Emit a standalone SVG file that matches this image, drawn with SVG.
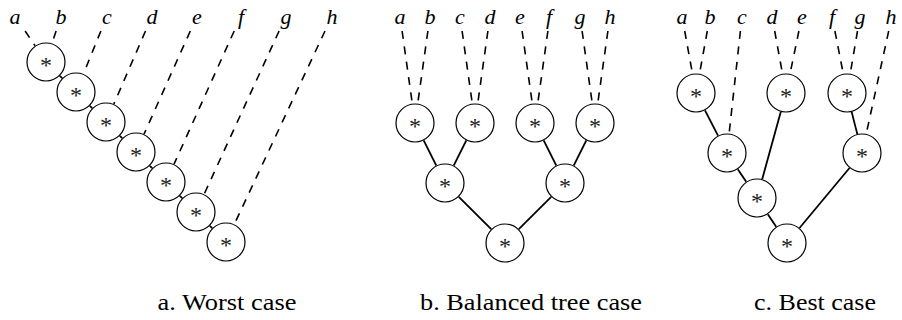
<svg xmlns="http://www.w3.org/2000/svg" width="902" height="320" viewBox="0 0 902 320">
<g id="connectors" fill="none" stroke="#000">
<g stroke-width="1.6" stroke-dasharray="8 7.5">
<line x1="25.1" y1="31" x2="35.1" y2="45.8"/>
<line x1="56.1" y1="31" x2="52.0" y2="43.5"/>
<line x1="100.9" y1="31" x2="83.4" y2="73.9"/>
<line x1="145.5" y1="31" x2="113.8" y2="104.1"/>
<line x1="190.3" y1="31" x2="144.0" y2="134.2"/>
<line x1="234.2" y1="31" x2="174.0" y2="164.2"/>
<line x1="279.1" y1="31" x2="204.1" y2="194.3"/>
<line x1="325.0" y1="31" x2="234.3" y2="224.3"/>
<line x1="402.1" y1="31" x2="412.3" y2="103.7"/>
<line x1="427.9" y1="31" x2="417.7" y2="103.7"/>
<line x1="462.1" y1="31" x2="472.3" y2="103.7"/>
<line x1="487.9" y1="31" x2="477.7" y2="103.7"/>
<line x1="522.1" y1="31" x2="532.3" y2="103.7"/>
<line x1="547.9" y1="31" x2="537.7" y2="103.7"/>
<line x1="582.1" y1="31" x2="592.3" y2="103.7"/>
<line x1="607.9" y1="31" x2="597.7" y2="103.7"/>
<line x1="684.7" y1="31" x2="692.5" y2="73.8"/>
<line x1="707.3" y1="31" x2="699.5" y2="73.8"/>
<line x1="740.4" y1="31" x2="729.1" y2="133.6"/>
<line x1="774.7" y1="31" x2="782.5" y2="73.8"/>
<line x1="798.9" y1="31" x2="790.0" y2="73.9"/>
<line x1="834.9" y1="31" x2="843.3" y2="73.9"/>
<line x1="857.5" y1="31" x2="850.2" y2="73.8"/>
<line x1="888.7" y1="31" x2="866.2" y2="134.0"/>
</g>
<g stroke-width="1.8">
<line x1="59.8" y1="75.8" x2="62.2" y2="78.2"/>
<line x1="89.8" y1="105.8" x2="92.2" y2="108.2"/>
<line x1="119.8" y1="135.8" x2="122.2" y2="138.2"/>
<line x1="149.8" y1="165.8" x2="152.2" y2="168.2"/>
<line x1="179.8" y1="195.8" x2="182.2" y2="198.2"/>
<line x1="209.8" y1="225.8" x2="212.2" y2="228.2"/>
<line x1="423.7" y1="140.4" x2="436.3" y2="165.6"/>
<line x1="466.3" y1="140.4" x2="453.7" y2="165.6"/>
<line x1="543.7" y1="140.4" x2="556.3" y2="165.6"/>
<line x1="586.3" y1="140.4" x2="573.7" y2="165.6"/>
<line x1="458.8" y1="196.8" x2="491.2" y2="229.2"/>
<line x1="551.2" y1="196.8" x2="518.8" y2="229.2"/>
<line x1="705.0" y1="110.3" x2="718.0" y2="135.7"/>
<line x1="737.8" y1="169.2" x2="746.2" y2="181.8"/>
<line x1="780.8" y1="111.8" x2="762.2" y2="179.2"/>
<line x1="767.8" y1="214.2" x2="776.2" y2="226.8"/>
<line x1="851.7" y1="111.9" x2="857.3" y2="134.1"/>
<line x1="849.5" y1="168.0" x2="799.5" y2="228.0"/>
</g>
</g>
<g font-family="'Liberation Serif', 'DejaVu Serif', 'Times New Roman', serif" font-style="italic" font-size="22" text-anchor="middle" fill="#000">
<g id="a-leaf-a"><text x="15" y="24">a</text></g>
<g id="a-leaf-b"><text x="61" y="24">b</text></g>
<g id="a-leaf-c"><text x="107" y="24">c</text></g>
<g id="a-leaf-d"><text x="152" y="24">d</text></g>
<g id="a-leaf-e"><text x="197" y="24">e</text></g>
<g id="a-leaf-f"><text x="241" y="24">f</text></g>
<g id="a-leaf-g"><text x="286" y="24">g</text></g>
<g id="a-leaf-h"><text x="332" y="24">h</text></g>
<g id="b-leaf-a"><text x="400" y="24">a</text></g>
<g id="b-leaf-b"><text x="430" y="24">b</text></g>
<g id="b-leaf-c"><text x="460" y="24">c</text></g>
<g id="b-leaf-d"><text x="490" y="24">d</text></g>
<g id="b-leaf-e"><text x="520" y="24">e</text></g>
<g id="b-leaf-f"><text x="549" y="24">f</text></g>
<g id="b-leaf-g"><text x="580" y="24">g</text></g>
<g id="b-leaf-h"><text x="610" y="24">h</text></g>
<g id="c-leaf-a"><text x="682" y="24">a</text></g>
<g id="c-leaf-b"><text x="710" y="24">b</text></g>
<g id="c-leaf-c"><text x="742" y="24">c</text></g>
<g id="c-leaf-d"><text x="772" y="24">d</text></g>
<g id="c-leaf-e"><text x="802" y="24">e</text></g>
<g id="c-leaf-f"><text x="832" y="24">f</text></g>
<g id="c-leaf-g"><text x="860" y="24">g</text></g>
<g id="c-leaf-h"><text x="891" y="24">h</text></g>
</g>
<g font-family="'Liberation Serif', 'DejaVu Serif', 'Times New Roman', serif" font-size="24" text-anchor="middle">
<g id="a-n1"><circle cx="46" cy="62" r="19" fill="#fff" stroke="#000" stroke-width="1.2"/><text x="46" y="73" fill="#222">*</text></g>
<g id="a-n2"><circle cx="76" cy="92" r="19" fill="#fff" stroke="#000" stroke-width="1.2"/><text x="76" y="103" fill="#222">*</text></g>
<g id="a-n3"><circle cx="106" cy="122" r="19" fill="#fff" stroke="#000" stroke-width="1.2"/><text x="106" y="133" fill="#222">*</text></g>
<g id="a-n4"><circle cx="136" cy="152" r="19" fill="#fff" stroke="#000" stroke-width="1.2"/><text x="136" y="163" fill="#222">*</text></g>
<g id="a-n5"><circle cx="166" cy="182" r="19" fill="#fff" stroke="#000" stroke-width="1.2"/><text x="166" y="193" fill="#222">*</text></g>
<g id="a-n6"><circle cx="196" cy="212" r="19" fill="#fff" stroke="#000" stroke-width="1.2"/><text x="196" y="223" fill="#222">*</text></g>
<g id="a-n7"><circle cx="226" cy="242" r="19" fill="#fff" stroke="#000" stroke-width="1.2"/><text x="226" y="253" fill="#222">*</text></g>
<g id="b-ab"><circle cx="415" cy="123" r="19" fill="#fff" stroke="#000" stroke-width="1.2"/><text x="415" y="134" fill="#222">*</text></g>
<g id="b-cd"><circle cx="475" cy="123" r="19" fill="#fff" stroke="#000" stroke-width="1.2"/><text x="475" y="134" fill="#222">*</text></g>
<g id="b-ef"><circle cx="535" cy="123" r="19" fill="#fff" stroke="#000" stroke-width="1.2"/><text x="535" y="134" fill="#222">*</text></g>
<g id="b-gh"><circle cx="595" cy="123" r="19" fill="#fff" stroke="#000" stroke-width="1.2"/><text x="595" y="134" fill="#222">*</text></g>
<g id="b-abcd"><circle cx="445" cy="183" r="19" fill="#fff" stroke="#000" stroke-width="1.2"/><text x="445" y="194" fill="#222">*</text></g>
<g id="b-efgh"><circle cx="565" cy="183" r="19" fill="#fff" stroke="#000" stroke-width="1.2"/><text x="565" y="194" fill="#222">*</text></g>
<g id="b-root"><circle cx="505" cy="243" r="19" fill="#fff" stroke="#000" stroke-width="1.2"/><text x="505" y="254" fill="#222">*</text></g>
<g id="c-ab"><circle cx="696" cy="93" r="19" fill="#fff" stroke="#000" stroke-width="1.2"/><text x="696" y="104" fill="#222">*</text></g>
<g id="c-de"><circle cx="786" cy="93" r="19" fill="#fff" stroke="#000" stroke-width="1.2"/><text x="786" y="104" fill="#222">*</text></g>
<g id="c-fg"><circle cx="847" cy="93" r="19" fill="#fff" stroke="#000" stroke-width="1.2"/><text x="847" y="104" fill="#222">*</text></g>
<g id="c-abc"><circle cx="727" cy="153" r="19" fill="#fff" stroke="#000" stroke-width="1.2"/><text x="727" y="164" fill="#222">*</text></g>
<g id="c-fgh"><circle cx="862" cy="153" r="19" fill="#fff" stroke="#000" stroke-width="1.2"/><text x="862" y="164" fill="#222">*</text></g>
<g id="c-abcde"><circle cx="757" cy="198" r="19" fill="#fff" stroke="#000" stroke-width="1.2"/><text x="757" y="209" fill="#222">*</text></g>
<g id="c-root"><circle cx="787" cy="243" r="19" fill="#fff" stroke="#000" stroke-width="1.2"/><text x="787" y="254" fill="#222">*</text></g>
</g>
<g font-family="'Liberation Serif', 'DejaVu Serif', 'Times New Roman', serif" font-size="23" text-anchor="middle" fill="#000">
<text x="227" y="310" textLength="139" lengthAdjust="spacingAndGlyphs">a. Worst case</text>
<text x="531" y="310" textLength="222" lengthAdjust="spacingAndGlyphs">b. Balanced tree case</text>
<text x="815" y="310" textLength="122" lengthAdjust="spacingAndGlyphs">c. Best case</text>
</g>
</svg>
